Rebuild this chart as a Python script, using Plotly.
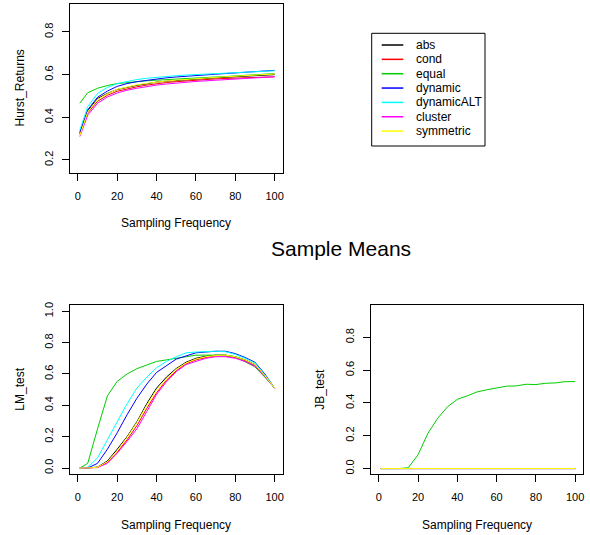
import plotly.graph_objects as go

W, H = 590, 535

freq = [1, 5, 10, 15, 20, 25, 30, 35, 40, 45, 50, 55, 60, 65, 70, 75, 80, 85, 90, 95, 100]
series = ["abs", "cond", "equal", "dynamic", "dynamicALT", "cluster", "symmetric"]
colors = ["#000000", "#FF0000", "#00CD00", "#0000FF", "#00FFFF", "#FF00FF", "#FFFF00"]

hurst = {
    "abs":        [0.325, 0.430, 0.488, 0.512, 0.530, 0.541, 0.550, 0.557, 0.565, 0.569, 0.573, 0.576, 0.579, 0.582, 0.585, 0.587, 0.590, 0.592, 0.595, 0.597, 0.600],
    "cond":       [0.320, 0.420, 0.475, 0.503, 0.522, 0.534, 0.543, 0.551, 0.558, 0.563, 0.567, 0.571, 0.574, 0.577, 0.580, 0.582, 0.584, 0.586, 0.588, 0.589, 0.590],
    "equal":      [0.466, 0.515, 0.536, 0.549, 0.558, 0.563, 0.567, 0.571, 0.574, 0.577, 0.580, 0.582, 0.584, 0.587, 0.589, 0.591, 0.594, 0.596, 0.599, 0.602, 0.605],
    "dynamic":    [0.330, 0.435, 0.494, 0.523, 0.545, 0.558, 0.567, 0.574, 0.580, 0.585, 0.589, 0.593, 0.596, 0.599, 0.602, 0.605, 0.608, 0.611, 0.614, 0.618, 0.620],
    "dynamicALT": [0.340, 0.450, 0.512, 0.540, 0.558, 0.569, 0.577, 0.583, 0.588, 0.592, 0.595, 0.598, 0.600, 0.602, 0.604, 0.606, 0.608, 0.610, 0.612, 0.615, 0.618],
    "cluster":    [0.310, 0.410, 0.466, 0.495, 0.514, 0.527, 0.536, 0.544, 0.551, 0.556, 0.561, 0.565, 0.568, 0.571, 0.574, 0.577, 0.580, 0.583, 0.585, 0.588, 0.590],
    "symmetric":  [0.315, 0.425, 0.483, 0.510, 0.531, 0.543, 0.552, 0.559, 0.566, 0.570, 0.574, 0.578, 0.581, 0.584, 0.587, 0.590, 0.593, 0.596, 0.598, 0.601, 0.603],
}

lm_test = {
    "abs":        [0, 0, 0.006, 0.045, 0.120, 0.200, 0.295, 0.410, 0.510, 0.580, 0.635, 0.675, 0.700, 0.713, 0.720, 0.720, 0.710, 0.690, 0.660, 0.590, 0.51],
    "cond":       [0, 0, 0.004, 0.035, 0.100, 0.180, 0.270, 0.380, 0.480, 0.560, 0.620, 0.665, 0.690, 0.705, 0.715, 0.715, 0.705, 0.685, 0.655, 0.585, 0.51],
    "equal":      [0, 0.030, 0.250, 0.460, 0.553, 0.600, 0.634, 0.658, 0.680, 0.690, 0.700, 0.710, 0.720, 0.720, 0.720, 0.720, 0.710, 0.680, 0.645, 0.580, 0.51],
    "dynamic":    [0, 0, 0.030, 0.120, 0.225, 0.340, 0.445, 0.535, 0.610, 0.655, 0.695, 0.715, 0.735, 0.740, 0.745, 0.745, 0.730, 0.705, 0.675, 0.600, 0.51],
    "dynamicALT": [0, 0.005, 0.065, 0.180, 0.300, 0.410, 0.510, 0.580, 0.640, 0.680, 0.710, 0.735, 0.740, 0.742, 0.745, 0.742, 0.725, 0.700, 0.670, 0.595, 0.51],
    "cluster":    [0, 0, 0.003, 0.030, 0.095, 0.170, 0.250, 0.360, 0.470, 0.550, 0.615, 0.660, 0.680, 0.700, 0.710, 0.710, 0.700, 0.680, 0.650, 0.585, 0.51],
    "symmetric":  [0, 0, 0.005, 0.040, 0.110, 0.195, 0.290, 0.400, 0.500, 0.570, 0.630, 0.670, 0.695, 0.710, 0.718, 0.720, 0.710, 0.690, 0.660, 0.590, 0.51],
}

zeros = [0] * 21
jb_test = {
    "abs": zeros, "cond": zeros,
    "equal": [0, 0, 0, 0.005, 0.085, 0.215, 0.307, 0.377, 0.422, 0.443, 0.467, 0.480, 0.493, 0.502, 0.504, 0.514, 0.512, 0.520, 0.522, 0.530, 0.530],
    "dynamic": zeros, "dynamicALT": zeros, "cluster": zeros, "symmetric": zeros,
}

x_ticks = [0, 20, 40, 60, 80, 100]
FONT = "Liberation Sans, Arial, Helvetica, sans-serif"


def px(x):
    return x / W


def py(y):
    return 1 - y / H


fig = go.Figure()

panels = [
    ("x", "y", hurst),
    ("x2", "y2", lm_test),
    ("x3", "y3", jb_test),
]
for xa, ya, data in panels:
    for name, col in zip(series, colors):
        fig.add_trace(go.Scatter(x=freq, y=data[name], mode="lines", name=name,
                                 line=dict(color=col, width=1), xaxis=xa, yaxis=ya,
                                 showlegend=False, hoverinfo="skip"))

axis_common = dict(showline=True, linecolor="black", linewidth=1, mirror=True,
                   ticks="outside", ticklen=7, tickcolor="black", tickwidth=1,
                   showgrid=False, zeroline=False, automargin=False,
                   tickfont=dict(family=FONT, size=11, color="black"))

xdom_l = [px(70), px(282.5)]
xdom_r = [px(371), px(583)]
ydom_t = [py(173.3), py(4)]
ydom_b = [py(474.3), py(305)]

xstand = 5
ystand = 5

fig.update_layout(
    width=W, height=H,
    margin=dict(l=0, r=0, t=0, b=0),
    paper_bgcolor="white", plot_bgcolor="white",
    showlegend=False,
    xaxis=dict(domain=xdom_l, range=[-4, 104], tickvals=x_ticks, anchor="y",
               ticklabelstandoff=xstand, **axis_common),
    yaxis=dict(domain=ydom_t, range=[0.1375, 0.931], tickvals=[0.2, 0.4, 0.6, 0.8],
               tickformat=".1f", tickangle=-90, anchor="x", ticklabelstandoff=ystand, **axis_common),
    xaxis2=dict(domain=xdom_l, range=[-4, 104], tickvals=x_ticks, anchor="y2",
                ticklabelstandoff=xstand, **axis_common),
    yaxis2=dict(domain=ydom_b, range=[-0.04, 1.04], tickvals=[0, 0.2, 0.4, 0.6, 0.8, 1.0],
                tickformat=".1f", tickangle=-90, anchor="x2", ticklabelstandoff=ystand, **axis_common),
    xaxis3=dict(domain=xdom_r, range=[-4, 104], tickvals=x_ticks, anchor="y3",
                ticklabelstandoff=xstand, **axis_common),
    yaxis3=dict(domain=ydom_b, range=[-0.035, 0.997], tickvals=[0, 0.2, 0.4, 0.6, 0.8],
                tickformat=".1f", tickangle=-90, anchor="x3", ticklabelstandoff=ystand, **axis_common),
)

annotations = []
shapes = []


def text(x, y, t, size, angle=0, xanchor="center"):
    annotations.append(dict(x=px(x), y=py(y), xref="paper", yref="paper", text=t,
                            showarrow=False, textangle=angle, xanchor=xanchor, yanchor="middle",
                            font=dict(family=FONT, size=size, color="black")))


# axis titles
text(176.25, 223.3, "Sampling Frequency", 12)
text(176.25, 525, "Sampling Frequency", 12)
text(477, 525, "Sampling Frequency", 12)
text(20, 88.5, "Hurst_Returns", 12, angle=-90)
text(20, 389.7, "LM_test", 12, angle=-90)
text(320, 389.7, "JB_test", 12, angle=-90)
# main title
text(341, 248.3, "Sample Means", 21)

# legend
shapes.append(dict(type="rect", xref="paper", yref="paper", x0=px(371.7), x1=px(485),
                   y0=py(146), y1=py(33.3), line=dict(color="black", width=1),
                   fillcolor="white"))
for i, (name, col) in enumerate(zip(series, colors)):
    yy = 45 + 14.35 * i
    shapes.append(dict(type="line", xref="paper", yref="paper", x0=px(381.7), x1=px(403.3),
                       y0=py(yy), y1=py(yy), line=dict(color=col, width=1.5)))
    text(414, yy, name, 12, xanchor="left")

fig.update_layout(annotations=annotations, shapes=shapes)
fig.write_html("out.html", config={"displayModeBar": False},
               post_script="document.body.style.margin='0';document.body.style.padding='0';")
